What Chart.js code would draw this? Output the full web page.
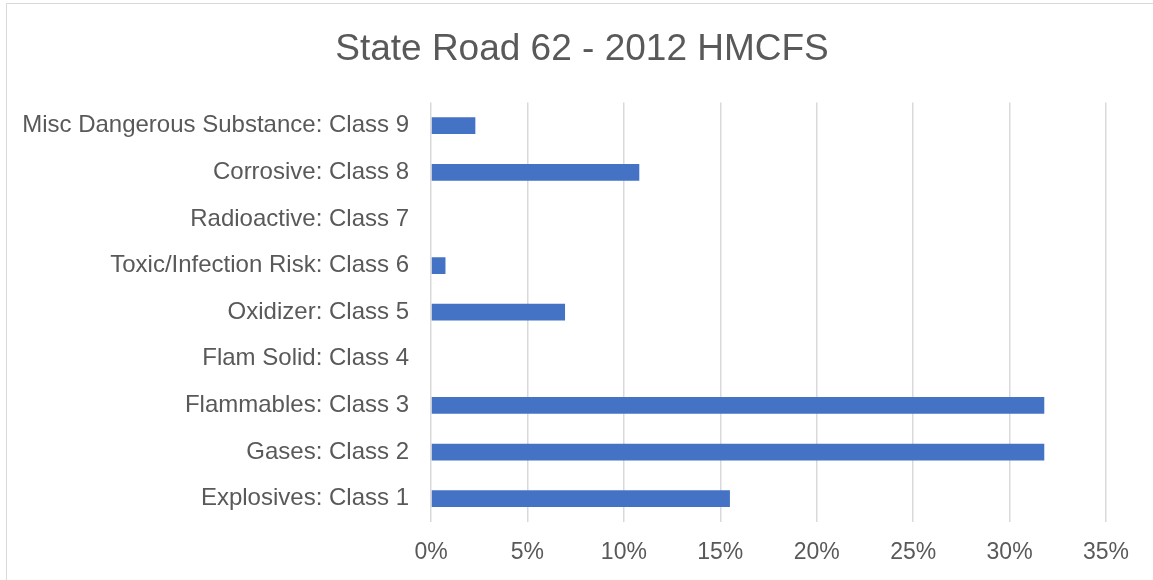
<!DOCTYPE html>
<html>
<head>
<meta charset="utf-8">
<script src="https://cdn.jsdelivr.net/npm/chart.js@4"></script>
<style>
  html, body { margin: 0; padding: 0; background: #ffffff; }
  #wrap { position: absolute; left: 0; top: 0; width: 1153px; height: 580px; }
  #frame { position: absolute; left: 6px; top: 3px; width: 1160px; height: 590px; border: 1px solid #d9d9d9; box-sizing: border-box; }
</style>
</head>
<body>
<div id="frame"></div>
<div id="wrap"><canvas id="chart" width="1153" height="580"></canvas></div>
<script>
// Datos del gráfico (de arriba hacia abajo)
const categorias = [
    'Misc Dangerous Substance: Class 9',
    'Corrosive: Class 8',
    'Radioactive: Class 7',
    'Toxic/Infection Risk: Class 6',
    'Oxidizer: Class 5',
    'Flam Solid: Class 4',
    'Flammables: Class 3',
    'Gases: Class 2',
    'Explosives: Class 1'
];
const porcentajes = [2.3, 10.8, 0, 0.75, 6.95, 0, 31.8, 31.8, 15.5];
const ticksX = [0, 5, 10, 15, 20, 25, 30, 35];

const fuente = '"Liberation Sans", Arial, sans-serif';
const gris = '#595959';

const ctx = document.getElementById('chart').getContext('2d');
new Chart(ctx, {
    type: 'bar',
    data: {
        labels: categorias,
        datasets: [{
            label: '2012',
            data: porcentajes,
            backgroundColor: '#4472c4',
            borderWidth: 0,
            categoryPercentage: 1,
            barPercentage: 0.36
        }]
    },
    options: {
        indexAxis: 'y',
        responsive: false,
        animation: false,
        layout: { padding: { left: 11, right: 0, top: 0, bottom: 0 } },
        plugins: {
            legend: { display: false },
            tooltip: { enabled: false },
            title: {
                display: true,
                text: 'State Road 62 - 2012 HMCFS',
                color: gris,
                font: { family: fuente, size: 37, weight: 'normal' },
                padding: { top: 28, bottom: 30 }
            }
        },
        scales: {
            x: {
                min: 0,
                max: 35,
                afterBuildTicks: function(scale) {
                    scale.ticks = ticksX.map(v => ({ value: v }));
                },
                afterFit: function(scale) { scale.height = 58; },
                grid: { color: '#d9d9d9', lineWidth: 1.5, drawTicks: false },
                border: { display: false },
                ticks: {
                    padding: 17,
                    color: gris,
                    font: { family: fuente, size: 23 },
                    callback: function(value) { return value + '%'; }
                }
            },
            y: {
                afterFit: function(scale) { scale.width = 420; },
                grid: { display: false, drawTicks: false },
                border: { display: false },
                ticks: {
                    padding: 22,
                    color: gris,
                    font: { family: fuente, size: 24 }
                }
            },
            // margen derecho vacío (deja el título centrado en todo el lienzo)
            margen: {
                type: 'linear',
                position: 'right',
                afterFit: function(scale) { scale.width = 47; },
                grid: { display: false, drawTicks: false },
                border: { display: false },
                ticks: { display: false }
            }
        }
    }
});
</script>
</body>
</html>
